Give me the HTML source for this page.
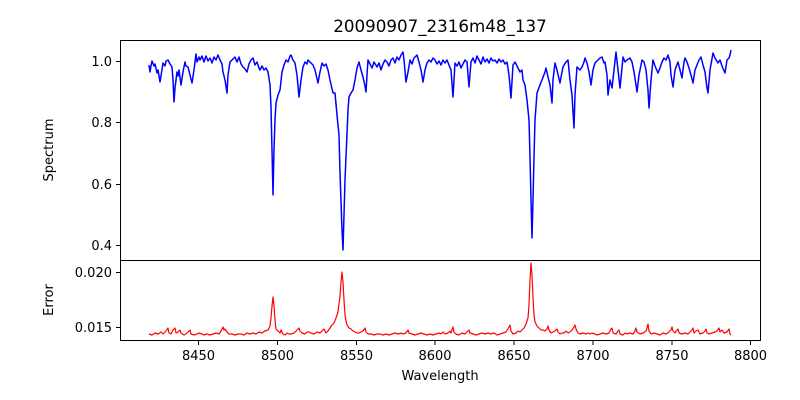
<!DOCTYPE html>
<html><head><style>
body{margin:0;background:#fff;}
svg{display:block;font-family:"DejaVu Sans","Liberation Sans",sans-serif;}
</style></head><body>
<svg width="800" height="400" viewBox="0 0 800 400" xmlns="http://www.w3.org/2000/svg">
<rect width="800" height="400" fill="#fff"/>
<text x="440" y="32" font-size="16.7" text-anchor="middle">20090907_2316m48_137</text>
<polyline fill="none" stroke="#0000ff" stroke-width="1.5" stroke-linejoin="round" points="149,65 150,72 151,66 152,61 154,66 155,64 157,73 158,70 160,82 161,76 163,63 165,66 166,61 168,60 170,64 172,67 173,80 174,102 175,88 177,72 178,76 179,70 181,85 183,72 185,62 186,66 188,67 190,75 192,83 194,70 196,54 197,62 199,57 200,60 202,56 204,62 206,56 208,61 210,58 212,63 214,57 216,60 218,55 220,60 222,64 223,72 225,80 227,93 228,75 230,62 232,60 235,57 237,62 239,57 241,64 243,67 245,69 247,72 249,64 251,60 253,58 255,65 257,62 259,68 260,70 262,66 264,70 266,68 268,72 270,85 271,107 272,150 273,195 274,150 275,120 276,103 278,95 280,90 282,72 284,65 286,60 288,62 290,56 291,55 293,60 295,63 297,75 299,97 301,80 303,67 305,62 307,64 308,60 310,62 313,65 315,70 318,83 320,72 322,63 324,66 326,64 328,70 330,80 333,93 335,93 337,115 339,135 340,173 342,230 343,250 344,215 345,180 346,157 348,110 349,97 351,93 353,90 355,80 357,68 359,62 361,70 363,77 365,86 366,92 367,75 368,60 370,64 372,68 374,62 377,67 379,63 381,70 383,64 385,60 387,62 389,66 391,60 393,58 395,63 397,57 399,60 401,55 403,52 404,60 406,82 408,72 410,60 412,64 414,58 417,55 419,62 421,70 423,82 425,70 427,63 429,60 431,62 433,58 435,60 437,64 439,61 441,65 443,60 445,63 447,60 449,65 451,70 453,97 455,63 457,66 459,62 461,68 463,64 465,60 467,62 469,87 471,62 473,58 475,63 477,56 479,60 481,64 483,57 485,62 487,59 489,63 491,58 493,61 495,60 497,63 499,59 501,62 503,60 505,64 507,62 509,75 511,98 513,65 515,62 517,66 520,72 522,70 523,80 525,85 527,100 529,120 530,157 531,200 532,238 533,200 534,157 535,120 537,93 540,85 542,80 545,72 546,68 548,77 550,85 552,103 553,80 555,63 557,70 560,83 562,72 563,67 566,62 568,60 570,80 572,95 574,128 575,95 577,67 580,70 582,67 584,62 585,58 587,63 589,72 591,85 593,70 595,63 598,60 600,58 602,57 604,63 605,62 607,75 608,95 610,80 612,88 614,70 616,52 618,70 620,88 622,68 623,57 625,62 627,60 630,58 632,62 634,72 636,85 637,92 639,75 642,60 644,62 646,70 648,90 649,108 651,80 653,60 655,66 658,73 660,68 662,62 664,58 666,60 668,55 670,62 671,75 673,87 675,70 678,62 680,70 682,78 684,62 685,58 687,62 689,68 691,75 693,83 695,70 697,65 699,60 701,57 703,65 705,72 707,88 708,93 710,70 713,53 715,58 718,63 720,60 722,66 725,73 727,60 729,58 730,55 731,50"/>
<polyline fill="none" stroke="#ff0000" stroke-width="1.2" stroke-linejoin="round" points="149,334 152,335 155,333 158,334 161,332 163,334 166,331 168,328 169,333 171,334 173,330 175,328 176,333 178,332 180,330 181,333 184,335 186,334 188,332 190,330 191,334 194,335 197,334 199,333 202,334 204,335 207,334 210,335 213,334 216,333 219,334 221,331 223,327 224,330 225,329 227,332 229,334 232,334 235,335 238,334 241,334 244,335 247,333 250,334 253,333 256,334 259,332 262,333 265,331 268,330 270,326 271,318 272,306 273,297 274,306 275,320 276,329 278,331 280,333 281,330 283,334 285,335 287,333 289,334 291,334 294,333 297,330 299,328 300,331 302,333 305,334 307,332 309,332 311,333 314,334 317,332 320,333 322,331 324,329 326,333 328,331 330,328 332,325 334,323 336,318 338,312 340,296 341,282 342,272 343,282 344,300 345,315 346,321 347,325 349,328 351,329 353,331 355,332 357,333 359,333 361,332 363,331 365,328 366,332 368,334 371,334 374,335 377,334 380,334 383,335 386,334 389,335 392,334 395,333 398,334 401,333 403,334 406,333 408,330 409,333 412,334 415,335 418,334 421,333 424,334 427,335 430,334 433,335 436,334 439,333 441,334 443,332 445,334 448,333 450,331 451,333 453,327 454,332 456,334 459,335 462,333 465,334 467,332 469,330 470,333 473,334 476,335 479,334 482,333 485,334 488,333 491,334 494,333 497,335 500,334 503,333 506,332 509,327 510,325 511,331 513,334 516,333 518,331 520,332 522,330 524,328 526,324 528,318 529,305 530,280 531,263 532,275 533,298 534,315 535,322 537,326 539,328 541,330 543,330 545,331 547,329 548,326 549,330 551,333 553,332 555,331 557,329 558,332 560,334 562,333 564,333 566,331 568,333 570,332 572,330 574,327 575,325 576,329 578,333 580,334 583,333 586,334 588,333 590,334 592,333 595,334 597,335 600,334 603,333 606,334 609,333 611,329 612,328 613,333 616,334 618,331 619,330 620,334 623,335 625,333 627,334 630,333 633,334 635,331 636,328 637,332 640,334 643,333 646,331 647,328 648,324 649,331 651,334 654,333 657,334 660,335 663,333 666,334 669,332 671,330 672,327 673,331 675,333 677,330 678,329 679,333 682,334 685,333 688,334 690,332 692,330 693,328 694,333 696,331 698,330 700,334 703,333 705,331 706,329 707,333 709,334 712,333 715,332 717,331 719,328 720,332 722,330 724,333 727,332 729,329 730,334 731,335"/>
<rect x="120.5" y="40.5" width="640" height="220" fill="none" stroke="#000" stroke-width="1"/>
<rect x="120.5" y="260.5" width="640" height="80" fill="none" stroke="#000" stroke-width="1"/>
<g stroke="#000" stroke-width="1">
<line x1="116" x2="120" y1="61.5" y2="61.5"/><line x1="116" x2="120" y1="122.5" y2="122.5"/>
<line x1="116" x2="120" y1="184.5" y2="184.5"/><line x1="116" x2="120" y1="245.5" y2="245.5"/>
<line x1="116" x2="120" y1="272.5" y2="272.5"/><line x1="116" x2="120" y1="327.5" y2="327.5"/>
<line y1="341" y2="345" x1="198.5" x2="198.5"/><line y1="341" y2="345" x1="277.5" x2="277.5"/>
<line y1="341" y2="345" x1="356.5" x2="356.5"/><line y1="341" y2="345" x1="435" x2="435"/>
<line y1="341" y2="345" x1="514" x2="514"/><line y1="341" y2="345" x1="593" x2="593"/>
<line y1="341" y2="345" x1="672" x2="672"/><line y1="341" y2="345" x1="750.5" x2="750.5"/>
</g>
<g font-size="13" text-anchor="end">
<text x="112" y="66">1.0</text><text x="112" y="127">0.8</text><text x="112" y="189">0.6</text><text x="112" y="250">0.4</text>
<text x="112" y="277">0.020</text><text x="112" y="332">0.015</text>
</g>
<g font-size="13" text-anchor="middle">
<text x="198.5" y="360">8450</text><text x="277.5" y="360">8500</text><text x="356.5" y="360">8550</text>
<text x="435" y="360">8600</text><text x="514" y="360">8650</text><text x="593" y="360">8700</text>
<text x="672" y="360">8750</text><text x="750.5" y="360">8800</text>
<text x="440" y="380">Wavelength</text>
<text transform="translate(53,150) rotate(-90)">Spectrum</text>
<text transform="translate(53,300) rotate(-90)">Error</text>
</g>
</svg>
</body></html>
